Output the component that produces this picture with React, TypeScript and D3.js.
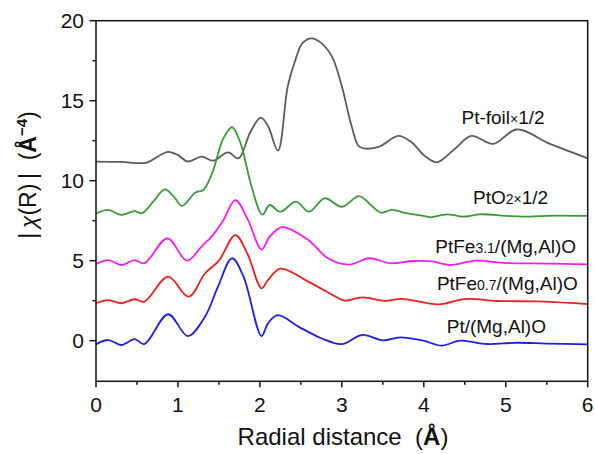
import React from "react";
import * as d3 from "d3";

const xTicks = [0, 1, 2, 3, 4, 5, 6];
const yTicks = [0, 5, 10, 15, 20];
const xMinor = [0.5, 1.5, 2.5, 3.5, 4.5, 5.5];
const yMinor = [2.5, 7.5, 12.5, 17.5];

const foilR = [0, 0.3, 0.62, 0.75, 0.88, 1.0, 1.12, 1.29, 1.43, 1.61, 1.74, 1.88, 2.01, 2.1, 2.22, 2.34, 2.43, 2.52, 2.63, 2.75, 2.88, 3.0, 3.12, 3.22, 3.44, 3.69, 3.85, 4.01, 4.16, 4.38, 4.58, 4.85, 5.13, 5.54, 6.0];
const foilV = [11.19, 11.17, 11.13, 11.5, 11.8, 11.6, 11.2, 11.5, 11.25, 11.77, 11.4, 13.0, 13.94, 13.4, 11.88, 15.9, 17.5, 18.6, 18.9, 18.6, 17.75, 15.9, 13.4, 12.1, 12.1, 12.8, 12.4, 11.55, 11.15, 12.0, 12.8, 12.3, 13.2, 12.3, 11.4];

const pto2R = [0, 0.15, 0.31, 0.47, 0.56, 0.7, 0.84, 0.95, 1.05, 1.21, 1.31, 1.42, 1.55, 1.66, 1.76, 1.9, 2.03, 2.12, 2.25, 2.44, 2.6, 2.79, 3.0, 3.21, 3.35, 3.48, 3.61, 3.8, 4.01, 4.08, 4.28, 4.48, 4.69, 5.0, 5.21, 5.6, 6.0];
const pto2V = [7.95, 8.17, 7.86, 8.1, 7.96, 8.7, 9.46, 9.0, 8.42, 9.25, 9.42, 10.5, 12.6, 13.34, 12.4, 9.6, 7.88, 8.48, 8.06, 8.69, 8.06, 8.9, 8.37, 9.04, 8.5, 8.0, 8.17, 7.95, 7.79, 7.71, 7.9, 7.75, 7.9, 7.8, 7.75, 7.82, 7.8];

const fe31R = [0, 0.15, 0.31, 0.47, 0.59, 0.87, 1.11, 1.29, 1.41, 1.55, 1.7, 1.85, 2.02, 2.12, 2.27, 2.59, 2.83, 3.08, 3.34, 3.59, 3.87, 4.1, 4.32, 4.64, 5.0, 5.5, 6.0];
const fe31V = [4.79, 5.04, 4.73, 5.04, 4.84, 6.4, 5.0, 5.9, 6.5, 7.5, 8.79, 7.6, 5.71, 6.5, 7.09, 6.29, 5.15, 4.75, 5.15, 4.84, 4.98, 4.95, 4.73, 5.0, 4.85, 4.82, 4.77];

const fe07R = [0, 0.15, 0.31, 0.47, 0.59, 0.88, 1.13, 1.33, 1.5, 1.7, 1.85, 2.02, 2.1, 2.25, 2.59, 2.96, 3.03, 3.25, 3.53, 3.73, 4.18, 4.5, 4.89, 5.4, 6.0];
const fe07V = [2.34, 2.54, 2.34, 2.59, 2.44, 4.0, 2.75, 4.2, 5.0, 6.6, 5.4, 3.27, 3.8, 4.5, 3.69, 2.65, 2.5, 2.7, 2.49, 2.61, 2.27, 2.6, 2.48, 2.45, 2.29];

const ptR = [0, 0.15, 0.31, 0.47, 0.59, 0.88, 1.12, 1.33, 1.49, 1.66, 1.8, 2.02, 2.1, 2.22, 2.47, 2.75, 3.0, 3.25, 3.5, 3.71, 3.99, 4.22, 4.44, 4.77, 5.13, 5.5, 6.0];
const ptV = [-0.23, 0.04, -0.27, 0.09, -0.21, 1.65, 0.29, 1.5, 3.4, 5.15, 4.0, 0.29, 1.1, 1.6, 0.88, 0.15, -0.22, 0.36, 0.02, 0.21, 0.0, -0.31, 0.0, -0.21, -0.13, -0.18, -0.23];

const series = [
  { name: "foil", r: foilR, v: foilV, color: "#5c5c5c" },
  { name: "pto2", r: pto2R, v: pto2V, color: "#3a9a3a" },
  { name: "fe31", r: fe31R, v: fe31V, color: "#f01ef0" },
  { name: "fe07", r: fe07R, v: fe07V, color: "#e8201e" },
  { name: "pt", r: ptR, v: ptV, color: "#1f1fe0" },
];

const FONT = "Liberation Sans, Arial, Helvetica, sans-serif";

export default function App() {
  const left = 96, right = 587.7, top = 20.7, bottom = 381.3;
  const x = d3.scaleLinear().domain([0, 6]).range([left, right]);
  const y = d3.scaleLinear().domain([-2.54, 20]).range([bottom, top]);
  const line = d3
    .line<[number, number]>()
    .x((d) => x(d[0]))
    .y((d) => y(d[1]))
    .curve(d3.curveCatmullRom.alpha(0.5));

  return (
    <svg width={595} height={454} style={{ position: "absolute", left: 0, top: 0, background: "#fff" }} fontFamily={FONT}>
      <rect x={0} y={0} width={595} height={454} fill="#fff" />
      {series.map((s) => (
        <path
          key={s.name}
          d={line(s.r.map((r, i) => [r, s.v[i]] as [number, number])) || ""}
          fill="none"
          stroke={s.color}
          strokeWidth={1.8}
        />
      ))}
      <rect x={left} y={top} width={right - left} height={bottom - top} fill="none" stroke="#111" strokeWidth={1.5} />
      {xTicks.map((t) => (
        <g key={"xt" + t}>
          <line x1={x(t)} x2={x(t)} y1={bottom} y2={bottom + 6} stroke="#111" strokeWidth={1.5} />
          <text x={x(t)} y={411.5} fontSize={21} textAnchor="middle" fill="#111">{t}</text>
        </g>
      ))}
      {xMinor.map((t) => (
        <line key={"xm" + t} x1={x(t)} x2={x(t)} y1={bottom} y2={bottom + 3.5} stroke="#111" strokeWidth={1.5} />
      ))}
      {yTicks.map((t) => (
        <g key={"yt" + t}>
          <line x1={left - 6.5} x2={left} y1={y(t)} y2={y(t)} stroke="#111" strokeWidth={1.5} />
          <text x={84} y={y(t) + 7.5} fontSize={21} textAnchor="end" fill="#111">{t}</text>
        </g>
      ))}
      {yMinor.map((t) => (
        <line key={"ym" + t} x1={left - 3.5} x2={left} y1={y(t)} y2={y(t)} stroke="#111" strokeWidth={1.5} />
      ))}
      <text x={343} y={445} fontSize={24} textAnchor="middle" fill="#111">
        Radial distance{"\u00a0\u00a0"}(<tspan fontWeight="bold">Å</tspan>)
      </text>
      <text transform="translate(36,175) rotate(-90)" fontSize={23} textAnchor="middle" fill="#111">
        |{"\u2009"}<tspan fontStyle="italic">χ</tspan>(R){"\u2009"}|{"\u00a0\u00a0"}(<tspan fontWeight="bold">Å</tspan>
        <tspan fontSize={15} dy={-9} fontWeight="bold">−4</tspan>
        <tspan dy={9}>)</tspan>
      </text>
      <text x={x(4.46)} y={y(13.54)} fontSize={19} fill="#111">
        Pt-foil<tspan fontSize={14}>×</tspan>1/2
      </text>
      <text x={x(4.6)} y={y(8.52)} fontSize={19} fill="#111">
        PtO<tspan fontSize={14}>2×</tspan>1/2
      </text>
      <text x={x(4.14)} y={y(5.46)} fontSize={19} fill="#111">
        PtFe<tspan fontSize={14}>3.1</tspan>/(Mg,Al)O
      </text>
      <text x={x(4.16)} y={y(3.17)} fontSize={19} fill="#111">
        PtFe<tspan fontSize={14}>0.7</tspan>/(Mg,Al)O
      </text>
      <text x={x(4.28)} y={y(0.46)} fontSize={19} fill="#111">
        Pt/(Mg,Al)O
      </text>
    </svg>
  );
}
